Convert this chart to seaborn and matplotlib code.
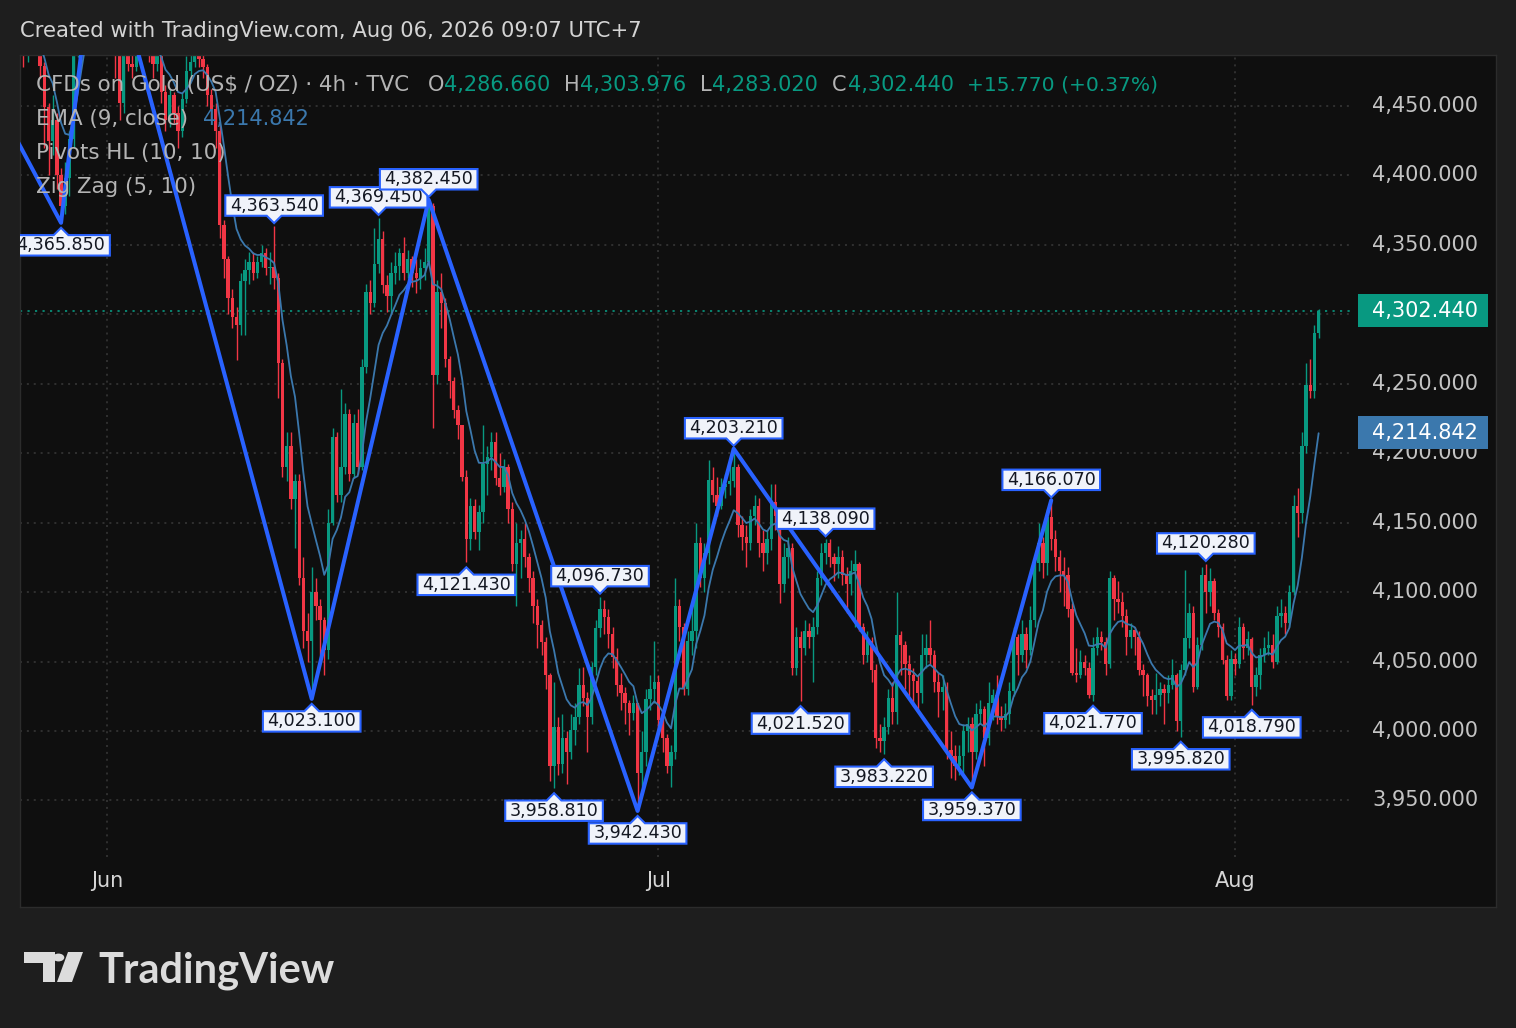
import numpy as np
import pandas as pd
import matplotlib
matplotlib.use("Agg")
import matplotlib.pyplot as plt
import matplotlib.transforms as mtransforms
from matplotlib.patches import Rectangle, Polygon, Circle
from matplotlib.path import Path
import seaborn as sns

# ---------------- data (4h bars, bar 0 = first bar of June) ----------------
FIRST_BAR = -24
CLOSE = [
    4500, 4510, 4505, 4495, 4486, 4493, 4500, 4496, 4479, 4449,   # -24
    4425, 4440, 4400, 4378, 4398, 4426, 4490, 4530, 4555, 4570,   # -14
    4562, 4580, 4570, 4545, 4520, 4500, 4490, 4452, 4492, 4480,   # -4
    4478, 4495, 4505, 4498, 4490, 4480, 4488, 4460, 4440, 4458,   # 6
    4445, 4432, 4455, 4475, 4482, 4500, 4484, 4478, 4458, 4448,   # 16
    4432, 4364, 4340, 4312, 4298, 4292, 4324, 4332, 4338, 4330,   # 26
    4338, 4344, 4333, 4334, 4326, 4265, 4190, 4205, 4167, 4180,   # 36
    4110, 4072, 4065, 4100, 4090, 4080, 4058, 4150, 4212, 4170,   # 46
    4190, 4228, 4185, 4222, 4190, 4262, 4316, 4308, 4336, 4354,   # 56
    4321, 4313, 4330, 4335, 4344, 4330, 4340, 4330, 4326, 4333,   # 66
    4338, 4378, 4256, 4316, 4308, 4268, 4252, 4231, 4220, 4183,   # 76
    4138, 4162, 4143, 4158, 4192, 4197, 4208, 4182, 4176, 4190,   # 86
    4160, 4120, 4135, 4138, 4125, 4110, 4090, 4076, 4064, 4040,   # 96
    3975, 4003, 3976, 3995, 3985, 4001, 4010, 4033, 4024, 4010,   # 106
    4046, 4074, 4088, 4082, 4070, 4053, 4033, 4027, 4020, 4013,   # 116
    4020, 3970, 3985, 4023, 4030, 4035, 4008, 3995, 3975, 3985,   # 126
    4090, 4075, 4030, 4065, 4072, 4135, 4110, 4128, 4181, 4170,   # 136
    4162, 4176, 4178, 4180, 4190, 4148, 4140, 4135, 4155, 4162,   # 146
    4135, 4128, 4138, 4165, 4155, 4106, 4125, 4132, 4045, 4068,   # 156
    4060, 4072, 4068, 4075, 4110, 4128, 4135, 4125, 4120, 4125,   # 166
    4112, 4106, 4115, 4120, 4075, 4055, 4065, 4044, 3995, 3993,   # 176
    4003, 4024, 4014, 4069, 4062, 4048, 4040, 4036, 4027, 4055,   # 186
    4060, 4055, 4035, 4028, 4032, 3986, 3982, 3975, 3982, 4000,   # 196
    4005, 3985, 4012, 4016, 3995, 4020, 4026, 4010, 4008, 4012,   # 206
    4029, 4068, 4055, 4070, 4058, 4080, 4121, 4135, 4121, 4154,   # 216
    4138, 4125, 4115, 4112, 4088, 4042, 4040, 4050, 4045, 4026,   # 226
    4060, 4068, 4064, 4048, 4110, 4095, 4093, 4083, 4068, 4073,   # 236
    4068, 4044, 4040, 4025, 4022, 4026, 4030, 4027, 4033, 4040,   # 246
    4007, 4044, 4067, 4085, 4032, 4062, 4112, 4100, 4108, 4085,   # 256
    4075, 4051, 4025, 4052, 4048, 4075, 4060, 4066, 4032, 4040,   # 266
    4055, 4060, 4062, 4050, 4083, 4085, 4078, 4100, 4162, 4157,   # 276
    4205, 4249, 4245, 4286.66, 4302.44,                           # 286
]
HIGH = [
    4515, 4522, 4520, 4512, 4505, 4500, 4515, 4510, 4500, 4482,
    4452, 4458, 4445, 4405, 4410, 4432, 4500, 4545, 4570, 4582,
    4585, 4590, 4594, 4575, 4550, 4525, 4510, 4495, 4505, 4500,
    4498, 4505, 4515, 4512, 4505, 4495, 4495, 4492, 4465, 4462,
    4460, 4450, 4460, 4486, 4495, 4515, 4505, 4490, 4480, 4462,
    4452, 4436, 4368, 4342, 4318, 4305, 4330, 4340, 4345, 4345,
    4342, 4350, 4348, 4345, 4363.54, 4330, 4268, 4215, 4215, 4185,
    4185, 4125, 4085, 4118, 4110, 4095, 4082, 4160, 4218, 4215,
    4246, 4236, 4232, 4228, 4232, 4268, 4322, 4325, 4362, 4369.45,
    4360, 4328, 4338, 4345, 4348, 4356, 4346, 4342, 4340, 4340,
    4348, 4382.45, 4380, 4325, 4330, 4312, 4270, 4255, 4235, 4215,
    4188, 4168, 4167, 4163, 4220, 4205, 4215, 4215, 4200, 4196,
    4192, 4165, 4150, 4145, 4150, 4128, 4115, 4095, 4080, 4068,
    4042, 4035, 4010, 4012, 4000, 4012, 4020, 4045, 4046, 4028,
    4050, 4080, 4096.73, 4094, 4088, 4075, 4060, 4042, 4032, 4022,
    4026, 4020, 4000, 4030, 4040, 4065, 4040, 4015, 3998, 3990,
    4110, 4095, 4078, 4072, 4092, 4150, 4140, 4135, 4195, 4190,
    4183, 4182, 4185, 4192, 4203.21, 4192, 4155, 4148, 4160, 4170,
    4168, 4145, 4145, 4178, 4178, 4160, 4135, 4140, 4135, 4075,
    4072, 4080, 4078, 4082, 4115, 4135, 4138.09, 4138, 4128, 4133,
    4130, 4118, 4123, 4130, 4122, 4078, 4072, 4068, 4048, 4005,
    4010, 4030, 4035, 4100, 4072, 4065, 4055, 4045, 4040, 4070,
    4070, 4080, 4058, 4042, 4040, 4035, 4000, 3990, 3990, 4005,
    4010, 4010, 4020, 4022, 4018, 4035, 4030, 4040, 4018, 4020,
    4035, 4075, 4070, 4080, 4075, 4090, 4125, 4150, 4140, 4160,
    4166.07, 4145, 4130, 4125, 4118, 4092, 4060, 4058, 4055, 4050,
    4068, 4075, 4072, 4068, 4115, 4112, 4108, 4100, 4088, 4078,
    4075, 4072, 4048, 4042, 4030, 4042, 4035, 4034, 4040, 4052,
    4042, 4048, 4116, 4092, 4090, 4068, 4118, 4120.28, 4117, 4110,
    4088, 4078, 4055, 4058, 4056, 4082, 4078, 4072, 4068, 4046,
    4060, 4068, 4072, 4070, 4090, 4095, 4090, 4105, 4170, 4175,
    4215, 4265, 4268, 4292, 4303.976,
]
LOW = [
    4488, 4495, 4495, 4485, 4478, 4482, 4490, 4488, 4470, 4420,
    4400, 4415, 4390, 4365.85, 4372, 4385, 4420, 4485, 4525, 4545,
    4550, 4555, 4560, 4535, 4505, 4490, 4470, 4440, 4445, 4475,
    4470, 4475, 4490, 4488, 4482, 4470, 4475, 4452, 4432, 4435,
    4438, 4420, 4428, 4452, 4470, 4478, 4478, 4470, 4450, 4440,
    4420, 4355, 4326, 4300, 4290, 4267, 4285, 4285, 4322, 4325,
    4326, 4334, 4328, 4322, 4318, 4240, 4183, 4180, 4160, 4132,
    4105, 4060, 4050, 4023.10, 4080, 4055, 4040, 4052, 4148, 4165,
    4165, 4185, 4180, 4182, 4185, 4188, 4258, 4300, 4305, 4330,
    4315, 4302, 4300, 4322, 4325, 4325, 4326, 4320, 4315, 4318,
    4325, 4334, 4218, 4250, 4290, 4262, 4240, 4225, 4210, 4180,
    4121.43, 4130, 4138, 4130, 4150, 4170, 4188, 4177, 4170, 4172,
    4150, 4115, 4090, 4110, 4118, 4100, 4078, 4060, 4055, 4030,
    3964, 3958.81, 3968, 3970, 3962, 3980, 3990, 4005, 4018, 3985,
    4005, 4040, 4068, 4070, 4060, 4045, 4025, 4015, 4005, 3997,
    4008, 3942.43, 3960, 3975, 4015, 4020, 4000, 3985, 3970, 3960,
    3980, 4065, 4026, 4026, 4055, 4060, 4104, 4100, 4120, 4165,
    4155, 4160, 4168, 4170, 4176, 4140, 4130, 4118, 4130, 4148,
    4125, 4115, 4120, 4130, 4145, 4092, 4100, 4110, 4040, 4040,
    4021.52, 4055, 4060, 4035, 4070, 4105, 4120, 4118, 4108, 4110,
    4105, 4085, 4098, 4075, 4072, 4048, 4050, 4035, 3988, 3985,
    3983.22, 3998, 4005, 4005, 4040, 4030, 4025, 4018, 4015, 4020,
    4045, 4048, 4028, 4010, 4015, 3980, 3966, 3965, 3968, 3970,
    3985, 3959.37, 3980, 4005, 3975, 3990, 4008, 4005, 4000, 4002,
    4005, 4025, 4040, 4050, 4045, 4055, 4075, 4115, 4110, 4112,
    4130, 4115, 4100, 4090, 4082, 4040, 4035, 4038, 4040, 4024,
    4021.77, 4055, 4058, 4040, 4045, 4080, 4085, 4075, 4055, 4060,
    4055, 4040, 4025, 4018, 4012, 4012, 4018, 4005, 4020, 4030,
    4000, 3995.82, 4040, 4060, 4028, 4030, 4058, 4085, 4090, 4080,
    4068, 4048, 4022, 4022, 4040, 4045, 4052, 4055, 4018.79, 4025,
    4030, 4050, 4055, 4045, 4048, 4075, 4070, 4075, 4098, 4140,
    4150, 4200, 4240, 4240, 4283.02,
]

ZZ_BARS = [-36, -11, -2, 49, 77, 127, 150, 207, 226]
ZZ_PRICES = [4507, 4365.85, 4594, 4023.10, 4382.45, 3942.43, 4203.21, 3959.37, 4166.07]

PIVOT_HIGH_BARS = [40, 65, 77, 118, 150, 172, 226, 263]
PIVOT_HIGH_PRICES = [4363.54, 4369.45, 4382.45, 4096.73, 4203.21, 4138.09, 4166.07, 4120.28]
PIVOT_LOW_BARS = [-11, 49, 86, 107, 127, 166, 186, 207, 236, 257, 274]
PIVOT_LOW_PRICES = [4365.85, 4023.10, 4121.43, 3958.81, 3942.43, 4021.52, 3983.22,
                    3959.37, 4021.77, 3995.82, 4018.79]

PRICE_TICKS = [3950, 4000, 4050, 4100, 4150, 4200, 4250, 4300, 4350, 4400, 4450]
MONTH_LABELS = ["Jun", "Jul", "Aug"]
MONTH_BARS = [0, 132, 270]

LAST_PRICE = 4302.44
EMA_LAST = 4214.842
HEADER = "Created with TradingView.com, Aug 06, 2026 09:07 UTC+7"
SYMBOL = "CFDs on Gold (US$ / OZ) \u00b7 4h \u00b7 TVC"
OHLC_LETTERS = ["O", "H", "L", "C"]
OHLC_VALUES = ["4,286.660", "4,303.976", "4,283.020", "4,302.440"]
CHANGE_TEXT = "+15.770 (+0.37%)"
INDICATORS = ["EMA (9, close)", "Pivots HL (10, 10)", "Zig Zag (5, 10)"]

# ---------------- style ----------------
GREEN = "#089981"
RED = "#f23645"
ZZ_BLUE = "#2962ff"
EMA_COL = "#3b78ad"
TXT = "#b4b4b4"
AX_TXT = "#c4c4c4"
GRID = "#3a3a3a"

W, H = 1516, 1028
sns.set_theme(style="dark", rc={"axes.facecolor": "#0f0f0f", "figure.facecolor": "#1e1e1e"})
plt.rcParams["font.family"] = ["DejaVu Sans"]

fig = plt.figure(figsize=(W / 100, H / 100), dpi=100)
fig.patch.set_facecolor("#1e1e1e")
PL, PT, PR, PB = 20, 55, 1496, 907
ax = fig.add_axes([PL / W, 1 - PB / H, (PR - PL) / W, (PB - PT) / H])
ax.set_facecolor("#0f0f0f")

BAR0_X, BAR_PX = 107.0, 4.178
Y0_PRICE, Y0_PX, PX_PER = 4000.0, 731.0, 1.389


def bar_of(px):
    return (px - BAR0_X) / BAR_PX


def price_of(py):
    return Y0_PRICE + (Y0_PX - py) / PX_PER


def axx(px):
    return (px - PL) / (PR - PL)


def axy(py):
    return (PB - py) / (PB - PT)


ax.set_xlim(bar_of(PL), bar_of(PR))
ax.set_ylim(price_of(PB), price_of(PT))
blend_y = mtransforms.blended_transform_factory(ax.transAxes, ax.transData)
blend_x = mtransforms.blended_transform_factory(ax.transData, ax.transAxes)

# grid
ax.hlines(PRICE_TICKS, bar_of(PL), bar_of(1350), colors=GRID, linewidth=1.1,
          linestyles=(0, (1.3, 3.2)), zorder=1)
ax.vlines(MONTH_BARS, price_of(857), price_of(PT), colors=GRID, linewidth=1.1,
          linestyles=(0, (1.3, 3.2)), zorder=1)
ax.hlines([LAST_PRICE], bar_of(PL), bar_of(1352), colors=GREEN, linewidth=1.2,
          linestyles=(0, (1.3, 3.2)), zorder=1.5)

# candles
bars = np.arange(FIRST_BAR, FIRST_BAR + len(CLOSE))
c = np.array(CLOSE, dtype=float)
o = np.r_[c[0], c[:-1]]
h = np.maximum(np.array(HIGH, dtype=float), np.maximum(o, c))
l = np.minimum(np.array(LOW, dtype=float), np.minimum(o, c))
cols = np.where(c >= o, GREEN, RED)
ax.vlines(bars, l, h, colors=cols, linewidth=1.0, zorder=2)
ax.bar(bars, np.maximum(np.abs(c - o), 0.7), bottom=np.minimum(o, c), width=0.8,
       color=cols, linewidth=0, zorder=2.5)

# EMA and zigzag via seaborn
ema = pd.Series(c).ewm(span=9, adjust=False).mean().to_numpy()
sns.lineplot(x=bars, y=ema, ax=ax, color=EMA_COL, linewidth=1.3, estimator=None,
             sort=False, legend=False, zorder=3.5)
sns.lineplot(x=ZZ_BARS, y=ZZ_PRICES, ax=ax, color=ZZ_BLUE, linewidth=2.9, estimator=None,
             sort=False, legend=False, zorder=4, solid_joinstyle="round")
ax.set_xlim(bar_of(PL), bar_of(PR))
ax.set_ylim(price_of(PB), price_of(PT))
ax.set_xlabel("")
ax.set_ylabel("")
ax.set_xticks([])
ax.set_yticks([])
for s in ax.spines.values():
    s.set_color("#2c2c2c")
    s.set_linewidth(1)


# pivot labels with callout boxes
class Callout:
    def __init__(self, up):
        self.up = up

    def __call__(self, x0, y0, width, height, mutation_size):
        px = 0.25 * mutation_size
        py = 0.07 * mutation_size
        tw = 0.42 * mutation_size
        th = 0.42 * mutation_size
        L, R = x0 - px, x0 + width + px
        B, T = y0 - py, y0 + height + py
        cx = (L + R) / 2
        if self.up:
            verts = [(L, B), (R, B), (R, T), (cx + tw, T), (cx, T + th), (cx - tw, T), (L, T), (L, B)]
        else:
            verts = [(L, B), (cx - tw, B), (cx, B - th), (cx + tw, B), (R, B), (R, T), (L, T), (L, B)]
        codes = [Path.MOVETO] + [Path.LINETO] * (len(verts) - 2) + [Path.CLOSEPOLY]
        return Path(verts, codes)


def pivot_label(b, p, is_high):
    off = 20.5 if is_high else -22.5
    ax.annotate(f"{p:,.3f}", xy=(b, p), xytext=(0, off), textcoords="offset pixels",
                ha="center", va="center", fontsize=12.6, color="#131722", zorder=6,
                clip_on=True,
                bbox=dict(boxstyle=Callout(up=not is_high), fc="#f0f3fa", ec=ZZ_BLUE, lw=1.5))


for b, p in zip(PIVOT_HIGH_BARS, PIVOT_HIGH_PRICES):
    pivot_label(b, p, True)
for b, p in zip(PIVOT_LOW_BARS, PIVOT_LOW_PRICES):
    pivot_label(b, p, False)

# price axis labels (a label fully covered by the last-price tag is not visible)
for v in PRICE_TICKS:
    if abs(v - LAST_PRICE) < 8:
        continue
    ax.text(axx(1478), v, f"{v:,.3f}", transform=blend_y, ha="right", va="center",
            fontsize=15, color=AX_TXT, zorder=5)
for price, col in [(LAST_PRICE, GREEN), (EMA_LAST, EMA_COL)]:
    ax.add_patch(Rectangle((axx(1358), price - 16.5 / PX_PER), 130 / (PR - PL), 33 / PX_PER,
                           transform=blend_y, facecolor=col, edgecolor="none", zorder=8,
                           clip_on=False))
    ax.text(axx(1478), price, f"{price:,.3f}", transform=blend_y, ha="right", va="center",
            fontsize=15, color="white", zorder=9)

# time axis labels
for b, lab in zip(MONTH_BARS, MONTH_LABELS):
    ax.text(b, axy(881), lab, transform=blend_x, ha="center", va="center",
            fontsize=15, color="#d6d6d6", zorder=5)

# legend block
ax.text(axx(36), axy(85), SYMBOL, transform=ax.transAxes, ha="left", va="center",
        fontsize=15.4, color=TXT, zorder=20)
letter_x = [428, 564, 700, 832]
value_x = [444, 580, 712, 848]
for lx, vx, let, val in zip(letter_x, value_x, OHLC_LETTERS, OHLC_VALUES):
    ax.text(axx(lx), axy(85), let, transform=ax.transAxes, ha="left", va="center",
            fontsize=15, color=TXT, zorder=20)
    ax.text(axx(vx), axy(85), val, transform=ax.transAxes, ha="left", va="center",
            fontsize=15, color=GREEN, zorder=20)
ax.text(axx(967), axy(85), CHANGE_TEXT, transform=ax.transAxes, ha="left", va="center",
        fontsize=14.6, color=GREEN, zorder=20)
for i, name in enumerate(INDICATORS):
    ax.text(axx(36), axy(119 + 34 * i), name, transform=ax.transAxes, ha="left", va="center",
            fontsize=15.4, color=TXT, zorder=20)
ax.text(axx(203), axy(119), f"{EMA_LAST:,.3f}", transform=ax.transAxes, ha="left",
        va="center", fontsize=15, color=EMA_COL, zorder=20)

# header
fig.text(20 / W, 1 - 31 / H, HEADER, ha="left", va="center", fontsize=15.2, color="#d4d4d4")


# footer logo
def fp(x, y):
    return (x / W, 1 - y / H)


LOGO = "#dcdcdc"
fig.add_artist(Polygon([fp(24, 952), fp(55, 952), fp(55, 982), fp(43, 982), fp(43, 963), fp(24, 963)],
                       closed=True, transform=fig.transFigure, facecolor=LOGO, edgecolor="none"))
fig.add_artist(Polygon([fp(68, 952), fp(83, 952), fp(72, 982), fp(57, 982)],
                       closed=True, transform=fig.transFigure, facecolor=LOGO, edgecolor="none"))
fig.add_artist(Circle(fp(58.5, 957.5), 5.8 / W, transform=fig.transFigure,
                      facecolor=LOGO, edgecolor="none"))
fig.text(98 / W, 1 - 982 / H, "TradingView", ha="left", va="baseline", fontsize=30,
         fontweight="bold", family=["Lato", "DejaVu Sans"], color=LOGO)

fig.savefig("out.png", dpi=100, facecolor=fig.get_facecolor())
